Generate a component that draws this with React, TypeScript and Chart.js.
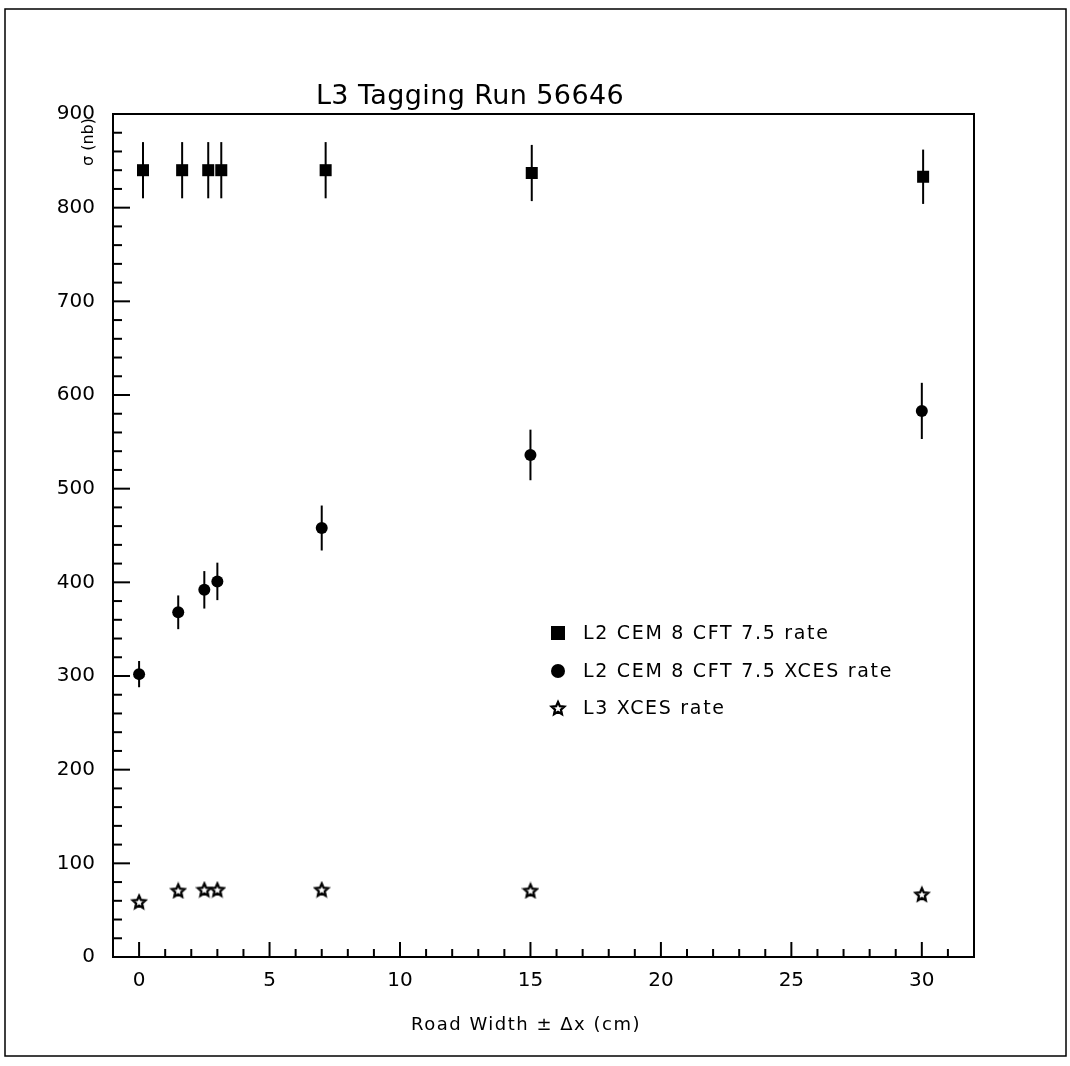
import React, { useEffect, useRef } from "react";
import { Chart, registerables } from "chart.js";

Chart.register(...registerables);

// ---- data ----
const xSquares = [0.15, 1.65, 2.65, 3.15, 7.15, 15.05, 30.05];
const ySquares = [840, 840, 840, 840, 840, 837, 833];
const errSquares = [30, 30, 30, 30, 30, 30, 29];

const xCircles = [0, 1.5, 2.5, 3, 7, 15, 30];
const yCircles = [302, 368, 392, 401, 458, 536, 583];
const errCircles = [14, 18, 20, 20, 24, 27, 30];

const xStars = [0, 1.5, 2.5, 3, 7, 15, 30];
const yStars = [59, 71, 72, 72, 72, 71, 67];

const xTickValues = [0, 5, 10, 15, 20, 25, 30];
const yTickValues = [0, 100, 200, 300, 400, 500, 600, 700, 800, 900];

const legendLabels = [
  "L2 CEM 8 CFT 7.5 rate",
  "L2 CEM 8 CFT 7.5 XCES rate",
  "L3 XCES rate",
];
const chartTitle = "L3 Tagging Run 56646";
const xTitle = "Road Width \u00b1 \u0394x (cm)";
const yTitle = "\u03c3 (nb)";

const FONT = "'DejaVu Sans', sans-serif";
const W = 1070;
const H = 1066;

function makeStar(size: number, lw: number): HTMLCanvasElement {
  const c = document.createElement("canvas");
  c.width = size;
  c.height = size;
  const g = c.getContext("2d")!;
  const cx = size / 2;
  const cy = size / 2 + 0.7;
  const ro = size / 2 - lw;
  const ri = ro * 0.47;
  g.beginPath();
  for (let i = 0; i < 10; i++) {
    const r = i % 2 === 0 ? ro : ri;
    const a = -Math.PI / 2 + (i * Math.PI) / 5;
    const px = cx + r * Math.cos(a);
    const py = cy + r * Math.sin(a);
    if (i === 0) g.moveTo(px, py);
    else g.lineTo(px, py);
  }
  g.closePath();
  g.lineWidth = lw;
  g.strokeStyle = "#000";
  g.lineJoin = "miter";
  g.stroke();
  return c;
}

function setSpacing(ctx: any, v: string) {
  if ("letterSpacing" in ctx) ctx.letterSpacing = v;
}

export default function App() {
  const ref = useRef<HTMLCanvasElement | null>(null);

  useEffect(() => {
    document.body.style.margin = "0";
    const canvas = ref.current!;
    const star = makeStar(18, 2.3);

    const errs: (number[] | null)[] = [errSquares, errCircles, null];

    const deco = {
      id: "deco",
      beforeDraw(chart: any) {
        setSpacing(chart.ctx, "0px");
      },
      beforeDatasetsDraw(chart: any) {
        const { ctx, scales } = chart;
        const x = scales.x;
        const y = scales.y;
        ctx.save();
        ctx.strokeStyle = "#000";
        ctx.lineWidth = 2;
        chart.data.datasets.forEach((ds: any, i: number) => {
          const e = errs[i];
          if (!e) return;
          ds.data.forEach((p: any, j: number) => {
            const px = x.getPixelForValue(p.x);
            ctx.beginPath();
            ctx.moveTo(px, y.getPixelForValue(p.y - e[j]));
            ctx.lineTo(px, y.getPixelForValue(p.y + e[j]));
            ctx.stroke();
          });
        });
        ctx.restore();
      },
      afterDraw(chart: any) {
        const { ctx, chartArea: a, scales } = chart;
        const x = scales.x;
        const y = scales.y;
        ctx.save();
        ctx.strokeStyle = "#000";
        ctx.fillStyle = "#000";
        // outer page frame
        ctx.lineWidth = 1.5;
        ctx.strokeRect(5, 9, 1061, 1047);
        // plot frame
        ctx.lineWidth = 2;
        ctx.strokeRect(a.left, a.top, a.right - a.left, a.bottom - a.top);
        // y ticks (inward)
        for (let v = 0; v <= 900; v += 20) {
          const py = y.getPixelForValue(v);
          const major = v % 100 === 0;
          ctx.beginPath();
          ctx.moveTo(a.left, py);
          ctx.lineTo(a.left + (major ? 17 : 9), py);
          ctx.stroke();
        }
        // x ticks (inward)
        for (let v = -1; v <= 32; v += 1) {
          const px = x.getPixelForValue(v);
          const major = v % 5 === 0;
          ctx.beginPath();
          ctx.moveTo(px, a.bottom);
          ctx.lineTo(px, a.bottom - (major ? 15 : 8));
          ctx.stroke();
        }
        // title
        ctx.font = `27px ${FONT}`;
        setSpacing(ctx, "0.4px");
        ctx.textAlign = "center";
        ctx.textBaseline = "alphabetic";
        ctx.fillText(chartTitle, 470, 104);
        // x title
        ctx.font = `18px ${FONT}`;
        setSpacing(ctx, "1.5px");
        ctx.textBaseline = "middle";
        ctx.fillText(xTitle, 526, 1025);
        // y title
        ctx.save();
        ctx.translate(89, 142);
        ctx.rotate(-Math.PI / 2);
        ctx.font = `16px ${FONT}`;
        setSpacing(ctx, "0px");
        ctx.textAlign = "center";
        ctx.fillText(yTitle, 0, 0);
        ctx.restore();
        // legend
        const rows = [633, 671, 708];
        const lx = 558;
        ctx.font = `19px ${FONT}`;
        setSpacing(ctx, "1.7px");
        ctx.textAlign = "left";
        ctx.textBaseline = "middle";
        rows.forEach((ry, i) => {
          if (i === 0) {
            ctx.fillRect(lx - 7, ry - 7, 14, 14);
          } else if (i === 1) {
            ctx.beginPath();
            ctx.arc(lx, ry, 7, 0, Math.PI * 2);
            ctx.fill();
          } else {
            ctx.drawImage(star, lx - 9, ry - 9);
          }
          ctx.fillText(legendLabels[i], 583, ry + 1);
        });
        setSpacing(ctx, "0px");
        ctx.restore();
        setSpacing(ctx, "0px");
      },
    };

    const chart = new Chart(canvas, {
      type: "scatter",
      data: {
        datasets: [
          {
            label: legendLabels[0],
            data: xSquares.map((v, i) => ({ x: v, y: ySquares[i] })),
            pointStyle: "rect",
            pointRadius: 8.5,
            backgroundColor: "#000",
            borderColor: "#000",
            borderWidth: 0,
          },
          {
            label: legendLabels[1],
            data: xCircles.map((v, i) => ({ x: v, y: yCircles[i] })),
            pointStyle: "circle",
            pointRadius: 6,
            backgroundColor: "#000",
            borderColor: "#000",
            borderWidth: 0,
          },
          {
            label: legendLabels[2],
            data: xStars.map((v, i) => ({ x: v, y: yStars[i] })),
            pointStyle: star as any,
            backgroundColor: "#000",
            borderColor: "#000",
          },
        ],
      },
      options: {
        responsive: false,
        animation: false,
        devicePixelRatio: 1,
        layout: { padding: { left: 0, right: W - 974, top: 114, bottom: 0 } },
        plugins: {
          legend: { display: false },
          title: { display: false },
          tooltip: { enabled: false },
        },
        scales: {
          x: {
            type: "linear",
            min: -1,
            max: 32,
            grid: { display: false, drawTicks: false },
            border: { display: true, color: "#000", width: 2 },
            afterBuildTicks: (s: any) => {
              s.ticks = xTickValues.map((v) => ({ value: v }));
            },
            afterFit: (s: any) => {
              s.height = H - 957;
            },
            ticks: {
              padding: 12,
              color: "#000",
              font: { family: FONT, size: 20 },
              maxRotation: 0,
              callback: (v: any) => String(v),
            },
          },
          y: {
            type: "linear",
            min: 0,
            max: 900,
            grid: { display: false, drawTicks: false },
            border: { display: true, color: "#000", width: 2 },
            afterBuildTicks: (s: any) => {
              s.ticks = yTickValues.map((v) => ({ value: v }));
            },
            afterFit: (s: any) => {
              s.width = 113;
            },
            ticks: {
              padding: 18,
              color: "#000",
              font: { family: FONT, size: 20 },
              callback: (v: any) => String(v),
            },
          },
        },
      },
      plugins: [deco],
    } as any);

    return () => chart.destroy();
  }, []);

  return (
    <div style={{ width: W, height: H, background: "#fff" }}>
      <canvas ref={ref} width={W} height={H} style={{ width: W, height: H, display: "block" }} />
    </div>
  );
}
